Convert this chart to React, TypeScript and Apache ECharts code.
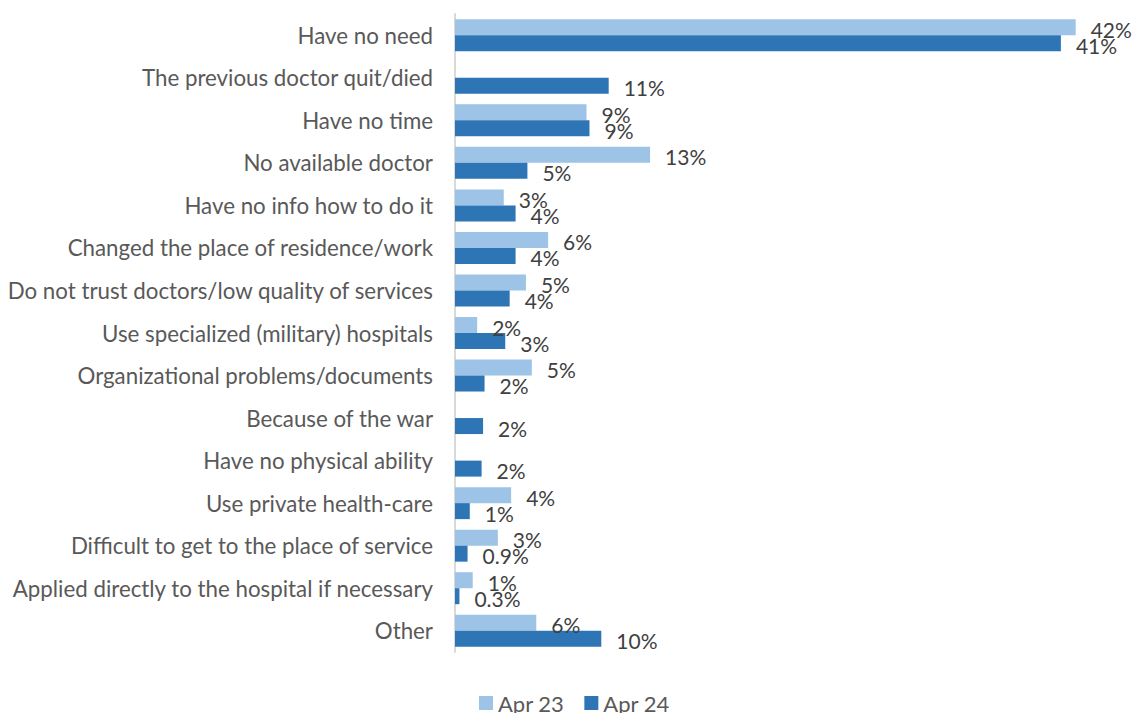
import React, { useEffect, useRef } from "react";
import * as echarts from "echarts";

const categories = [
  "Have no need",
  "The previous doctor quit/died",
  "Have no time",
  "No available doctor",
  "Have no info how to do it",
  "Changed the place of residence/work",
  "Do not trust doctors/low quality of services",
  "Use specialized (military) hospitals",
  "Organizational problems/documents",
  "Because of the war",
  "Have no physical ability",
  "Use private health-care",
  "Difficult to get to the place of service",
  "Applied directly to the hospital if necessary",
  "Other",
];

const seriesNames = ["Apr 23", "Apr 24"];

// bar lengths (percent)
const apr23Values: (number | null)[] = [42, null, 8.9, 13.2, 3.3, 6.3, 4.8, 1.5, 5.2, null, null, 3.8, 2.9, 1.2, 5.5];
const apr24Values: (number | null)[] = [41, 10.4, 9.1, 4.9, 4.1, 4.1, 3.7, 3.4, 2.0, 1.9, 1.8, 1.0, 0.85, 0.3, 9.9];

// data labels as printed in the picture
const apr23Labels = ["42%", "", "9%", "13%", "3%", "6%", "5%", "2%", "5%", "", "", "4%", "3%", "1%", "6%"];
const apr24Labels = ["41%", "11%", "9%", "5%", "4%", "4%", "4%", "3%", "2%", "2%", "2%", "1%", "0.9%", "0.3%", "10%"];

const FONT = "Lato, 'Noto Sans', sans-serif";

export default function App() {
  const ref = useRef<HTMLDivElement>(null);

  useEffect(() => {
    document.body.style.margin = "0";
    if (!ref.current) return;
    const chart = echarts.init(ref.current, undefined, { renderer: "svg" });

    const labelCfg = (labels: string[]) => ({
      show: true,
      position: "right",
      distance: 15,
      offset: [0, 2],
      color: "#404040",
      fontFamily: FONT,
      fontSize: 21,
      formatter: (p: any) => labels[p.dataIndex],
    });

    chart.setOption({
      animation: false,
      textStyle: { fontFamily: FONT },
      grid: { left: 455, right: 19, top: 14, bottom: 61, containLabel: false },
      legend: {
        data: seriesNames,
        left: 479,
        top: 692,
        padding: 0,
        itemWidth: 14,
        itemHeight: 14,
        itemGap: 20,
        icon: "rect",
        textStyle: { color: "#595959", fontSize: 22, fontFamily: FONT },
      },
      xAxis: {
        type: "value",
        min: 0,
        max: 45,
        show: false,
        splitLine: { show: false },
      },
      yAxis: {
        type: "category",
        data: categories,
        inverse: true,
        axisLine: { show: true, lineStyle: { color: "#D9D9D9", width: 2 } },
        axisTick: { show: false },
        axisLabel: {
          color: "#595959",
          fontSize: 22.3,
          fontFamily: FONT,
          margin: 22,
        },
      },
      series: [
        {
          name: seriesNames[0],
          type: "bar",
          data: apr23Values,
          barWidth: 16,
          barGap: "0%",
          itemStyle: { color: "#9DC3E6" },
          label: labelCfg(apr23Labels),
        },
        {
          name: seriesNames[1],
          type: "bar",
          data: apr24Values,
          barWidth: 16,
          barGap: "0%",
          itemStyle: { color: "#2E75B6" },
          label: labelCfg(apr24Labels),
        },
      ],
    });

    return () => chart.dispose();
  }, []);

  return (
    <div
      ref={ref}
      style={{ position: "fixed", left: 0, top: 0, width: 1139, height: 713, background: "#fff" }}
    />
  );
}
